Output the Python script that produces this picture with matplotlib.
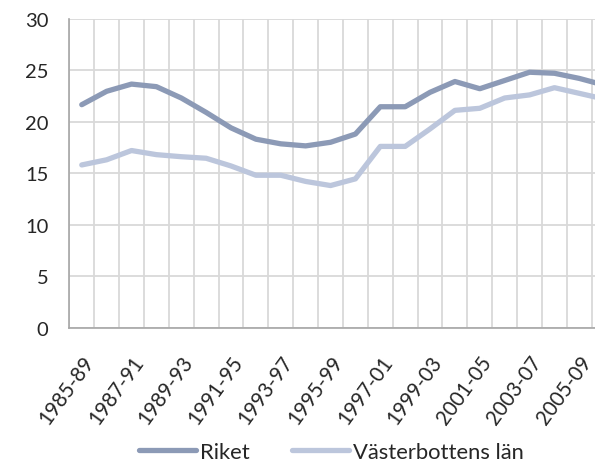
import matplotlib
matplotlib.use("Agg")
import matplotlib.pyplot as plt
from matplotlib.ticker import FixedLocator

plt.rcParams['font.family'] = ['Lato', 'DejaVu Sans']

categories = ["1985-89", "1986-90", "1987-91", "1988-92", "1989-93", "1990-94",
              "1991-95", "1992-96", "1993-97", "1994-98", "1995-99", "1996-00",
              "1997-01", "1998-02", "1999-03", "2000-04", "2001-05", "2002-06",
              "2003-07", "2004-08", "2005-09", "2006-10"]
riket = [21.65, 22.95, 23.65, 23.4, 22.3, 20.9, 19.4, 18.3, 17.85, 17.65, 18.0,
         18.8, 21.45, 21.45, 22.85, 23.9, 23.2, 24.0, 24.8, 24.7, 24.2, 23.55]
vasterbotten = [15.8, 16.3, 17.2, 16.8, 16.6, 16.45, 15.7, 14.8, 14.8, 14.2, 13.8,
                14.45, 17.6, 17.6, 19.3, 21.1, 21.3, 22.3, 22.6, 23.3, 22.75, 22.2]
series_names = ["Riket", "Västerbottens län"]
yticks = [0, 5, 10, 15, 20, 25, 30]

fig = plt.figure(figsize=(5.95, 4.64), dpi=100)
ax = fig.add_axes([0.1165, 0.2916, 0.8835, 0.666])

x = list(range(len(categories)))
ax.plot(x, riket, color="#8C9AB6", lw=3.8, solid_capstyle='round', solid_joinstyle='round', label=series_names[0], zorder=3)
ax.plot(x, vasterbotten, color="#BCC6DC", lw=3.8, solid_capstyle='round', solid_joinstyle='round', label=series_names[1], zorder=3)

ax.set_xlim(-0.5, 20.63)
ax.set_ylim(0, 30)
ax.set_yticks(yticks)
ax.set_xticks(x[::2])
ax.set_xticklabels(categories[::2], rotation=54, ha='right', va='top', rotation_mode='anchor', fontsize=14.8, color="#262626")
ax.xaxis.set_minor_locator(FixedLocator([i + 0.5 for i in range(-1, len(categories))]))
ax.grid(axis='y', which='major', color="#D9D9D9", lw=1.3)
ax.grid(axis='x', which='minor', color="#D9D9D9", lw=1.3)
ax.set_axisbelow(True)
ax.tick_params(axis='both', which='both', length=0)
ax.tick_params(axis='y', labelsize=14.5, labelcolor="#262626", pad=15)
ax.tick_params(axis='x', pad=17)
for s in ['top', 'right']:
    ax.spines[s].set_visible(False)
for s in ['left', 'bottom']:
    ax.spines[s].set_color("#A6A6A6")
    ax.spines[s].set_linewidth(1.2)

leg = fig.legend(loc='center', bbox_to_anchor=(0.557, 0.024), ncol=2, frameon=False,
                 fontsize=15.8, handlelength=2.6, handletextpad=0.2, columnspacing=1.9)
for t in leg.get_texts():
    t.set_color("#262626")

fig.savefig("out.png", dpi=100)
